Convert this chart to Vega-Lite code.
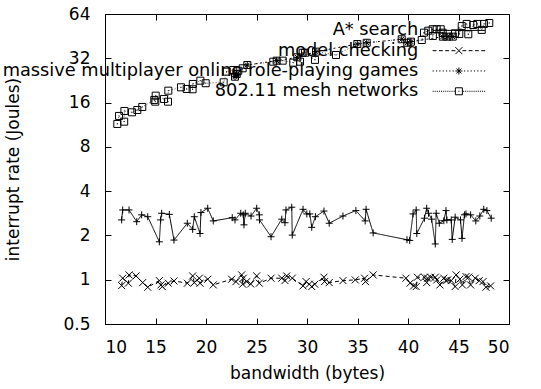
{
  "$schema": "https://vega.github.io/schema/vega-lite/v6.json",
  "width": 404,
  "height": 310,
  "autosize": {"type": "none"},
  "padding": {"left": 105, "top": 14, "right": 32, "bottom": 65},
  "config": {
    "view": {"stroke": null},
    "font": "DejaVu Sans",
    "axis": {
      "labelFont": "DejaVu Sans", "labelFontSize": 17, "labelColor": "black",
      "titleFont": "DejaVu Sans", "titleFontSize": 17, "titleFontWeight": "normal", "titleColor": "black",
      "domainColor": "black", "tickColor": "black", "grid": false, "tickSize": -6
    }
  },
  "data": {"values": [
    {"s":"A* search","x":11.65,"y":2.55},{"s":"A* search","x":11.75,"y":2.98},{"s":"A* search","x":12.38,"y":2.98},{"s":"A* search","x":13.14,"y":2.48},{"s":"A* search","x":13.63,"y":2.76},{"s":"A* search","x":14.23,"y":2.68},{"s":"A* search","x":15.38,"y":1.81},{"s":"A* search","x":15.51,"y":2.55},{"s":"A* search","x":15.61,"y":2.83},{"s":"A* search","x":16.37,"y":2.78},{"s":"A* search","x":16.83,"y":1.86},{"s":"A* search","x":18.15,"y":2.42},{"s":"A* search","x":18.68,"y":2.2},{"s":"A* search","x":18.84,"y":2.68},{"s":"A* search","x":19.41,"y":2.06},{"s":"A* search","x":19.5,"y":2.86},{"s":"A* search","x":20.17,"y":3.06},{"s":"A* search","x":20.72,"y":2.51},{"s":"A* search","x":22.6,"y":2.64},{"s":"A* search","x":22.87,"y":2.55},{"s":"A* search","x":23.44,"y":2.83},{"s":"A* search","x":23.69,"y":2.76},{"s":"A* search","x":23.76,"y":2.36},{"s":"A* search","x":23.89,"y":2.83},{"s":"A* search","x":24.46,"y":2.71},{"s":"A* search","x":25.02,"y":3.06},{"s":"A* search","x":25.28,"y":2.76},{"s":"A* search","x":25.3,"y":2.55},{"s":"A* search","x":26.44,"y":1.96},{"s":"A* search","x":27.5,"y":2.58},{"s":"A* search","x":27.82,"y":2.44},{"s":"A* search","x":27.92,"y":2.98},{"s":"A* search","x":28.49,"y":3.11},{"s":"A* search","x":28.54,"y":2.01},{"s":"A* search","x":29.61,"y":3.01},{"s":"A* search","x":29.98,"y":2.8},{"s":"A* search","x":30.28,"y":2.8},{"s":"A* search","x":30.47,"y":2.27},{"s":"A* search","x":30.83,"y":2.68},{"s":"A* search","x":31.68,"y":2.93},{"s":"A* search","x":32.2,"y":2.42},{"s":"A* search","x":33.56,"y":2.71},{"s":"A* search","x":34.84,"y":2.95},{"s":"A* search","x":35.76,"y":2.51},{"s":"A* search","x":35.85,"y":3.01},{"s":"A* search","x":36.55,"y":2.08},{"s":"A* search","x":39.9,"y":1.87},{"s":"A* search","x":40.17,"y":1.85},{"s":"A* search","x":40.5,"y":2.8},{"s":"A* search","x":40.81,"y":2.98},{"s":"A* search","x":40.87,"y":2.06},{"s":"A* search","x":41.63,"y":2.62},{"s":"A* search","x":41.85,"y":3.06},{"s":"A* search","x":42.03,"y":2.83},{"s":"A* search","x":42.34,"y":2.58},{"s":"A* search","x":42.7,"y":1.75},{"s":"A* search","x":42.79,"y":2.83},{"s":"A* search","x":43.1,"y":2.42},{"s":"A* search","x":43.55,"y":2.52},{"s":"A* search","x":43.76,"y":2.95},{"s":"A* search","x":43.85,"y":2.55},{"s":"A* search","x":44.28,"y":2.55},{"s":"A* search","x":44.38,"y":1.88},{"s":"A* search","x":44.67,"y":2.66},{"s":"A* search","x":45.2,"y":2.55},{"s":"A* search","x":45.35,"y":1.91},{"s":"A* search","x":45.59,"y":2.76},{"s":"A* search","x":45.74,"y":2.8},{"s":"A* search","x":46.2,"y":2.76},{"s":"A* search","x":46.71,"y":2.51},{"s":"A* search","x":47.11,"y":2.71},{"s":"A* search","x":47.5,"y":3.01},{"s":"A* search","x":47.81,"y":2.95},{"s":"A* search","x":48.24,"y":2.62},
    {"s":"model checking","x":11.65,"y":0.912},{"s":"model checking","x":11.75,"y":1.024},{"s":"model checking","x":12.31,"y":0.947},{"s":"model checking","x":12.38,"y":1.078},{"s":"model checking","x":13.07,"y":1.061},{"s":"model checking","x":13.73,"y":0.956},{"s":"model checking","x":14.23,"y":0.889},{"s":"model checking","x":15.38,"y":0.986},{"s":"model checking","x":15.54,"y":0.922},{"s":"model checking","x":15.67,"y":0.898},{"s":"model checking","x":16.27,"y":0.947},{"s":"model checking","x":16.83,"y":0.981},{"s":"model checking","x":18.15,"y":0.947},{"s":"model checking","x":18.68,"y":1.061},{"s":"model checking","x":18.84,"y":0.956},{"s":"model checking","x":19.34,"y":1.024},{"s":"model checking","x":19.41,"y":0.947},{"s":"model checking","x":20.17,"y":1.008},{"s":"model checking","x":20.72,"y":0.922},{"s":"model checking","x":22.54,"y":1.008},{"s":"model checking","x":22.97,"y":0.971},{"s":"model checking","x":23.53,"y":1.078},{"s":"model checking","x":23.63,"y":0.932},{"s":"model checking","x":23.69,"y":1.024},{"s":"model checking","x":24.03,"y":0.971},{"s":"model checking","x":24.43,"y":0.936},{"s":"model checking","x":25.02,"y":1.061},{"s":"model checking","x":25.28,"y":0.947},{"s":"model checking","x":26.44,"y":1.024},{"s":"model checking","x":27.5,"y":1.024},{"s":"model checking","x":27.82,"y":0.986},{"s":"model checking","x":27.99,"y":1.061},{"s":"model checking","x":28.54,"y":1.024},{"s":"model checking","x":29.61,"y":0.908},{"s":"model checking","x":29.91,"y":0.971},{"s":"model checking","x":30.22,"y":0.932},{"s":"model checking","x":30.47,"y":0.898},{"s":"model checking","x":30.77,"y":0.932},{"s":"model checking","x":31.68,"y":1.04},{"s":"model checking","x":31.74,"y":0.971},{"s":"model checking","x":32.2,"y":0.956},{"s":"model checking","x":33.56,"y":0.986},{"s":"model checking","x":34.78,"y":0.997},{"s":"model checking","x":35.7,"y":1.024},{"s":"model checking","x":35.79,"y":0.971},{"s":"model checking","x":36.55,"y":1.078},{"s":"model checking","x":39.8,"y":1.024},{"s":"model checking","x":40.2,"y":0.947},{"s":"model checking","x":40.56,"y":0.908},{"s":"model checking","x":40.81,"y":0.898},{"s":"model checking","x":40.93,"y":1.04},{"s":"model checking","x":41.63,"y":1.04},{"s":"model checking","x":41.85,"y":0.956},{"s":"model checking","x":41.94,"y":1.024},{"s":"model checking","x":42.24,"y":1.04},{"s":"model checking","x":42.7,"y":1.04},{"s":"model checking","x":42.85,"y":0.997},{"s":"model checking","x":43.16,"y":0.922},{"s":"model checking","x":43.55,"y":1.024},{"s":"model checking","x":43.76,"y":0.986},{"s":"model checking","x":43.92,"y":0.997},{"s":"model checking","x":44.28,"y":0.986},{"s":"model checking","x":44.67,"y":0.898},{"s":"model checking","x":44.77,"y":1.078},{"s":"model checking","x":45.13,"y":1.008},{"s":"model checking","x":45.38,"y":0.922},{"s":"model checking","x":45.74,"y":1.05},{"s":"model checking","x":45.99,"y":1.04},{"s":"model checking","x":46.2,"y":0.922},{"s":"model checking","x":46.65,"y":1.024},{"s":"model checking","x":47.05,"y":0.986},{"s":"model checking","x":47.42,"y":0.971},{"s":"model checking","x":47.72,"y":0.889},{"s":"model checking","x":48.18,"y":0.908},
    {"s":"massive multiplayer online role-playing games","x":22.87,"y":23.99},{"s":"massive multiplayer online role-playing games","x":23.04,"y":25.03},{"s":"massive multiplayer online role-playing games","x":24.09,"y":28.81},{"s":"massive multiplayer online role-playing games","x":27.0,"y":30.83},{"s":"massive multiplayer online role-playing games","x":29.04,"y":32.5},{"s":"massive multiplayer online role-playing games","x":30.89,"y":35.5},{"s":"massive multiplayer online role-playing games","x":34.98,"y":40.0},{"s":"massive multiplayer online role-playing games","x":35.91,"y":40.8},{"s":"massive multiplayer online role-playing games","x":39.38,"y":43.1},{"s":"massive multiplayer online role-playing games","x":39.93,"y":40.8},{"s":"massive multiplayer online role-playing games","x":40.3,"y":41.5},{"s":"massive multiplayer online role-playing games","x":43.45,"y":44.9},{"s":"massive multiplayer online role-playing games","x":43.89,"y":44.9},{"s":"massive multiplayer online role-playing games","x":44.43,"y":44.9},
    {"s":"802.11 mesh networks","x":11.22,"y":11.45},{"s":"802.11 mesh networks","x":11.39,"y":12.98},{"s":"802.11 mesh networks","x":11.9,"y":11.87},{"s":"802.11 mesh networks","x":11.92,"y":14.03},{"s":"802.11 mesh networks","x":12.67,"y":13.74},{"s":"802.11 mesh networks","x":13.2,"y":14.25},{"s":"802.11 mesh networks","x":13.69,"y":14.94},{"s":"802.11 mesh networks","x":14.88,"y":16.67},{"s":"802.11 mesh networks","x":14.98,"y":16.23},{"s":"802.11 mesh networks","x":15.02,"y":17.83},{"s":"802.11 mesh networks","x":15.84,"y":16.93},{"s":"802.11 mesh networks","x":16.24,"y":16.23},{"s":"802.11 mesh networks","x":16.27,"y":19.28},{"s":"802.11 mesh networks","x":17.52,"y":20.32},{"s":"802.11 mesh networks","x":18.09,"y":19.8},{"s":"802.11 mesh networks","x":18.67,"y":19.7},{"s":"802.11 mesh networks","x":18.69,"y":21.41},{"s":"802.11 mesh networks","x":19.44,"y":22.54},{"s":"802.11 mesh networks","x":19.97,"y":21.65},{"s":"802.11 mesh networks","x":21.75,"y":21.98},{"s":"802.11 mesh networks","x":22.05,"y":25.95},{"s":"802.11 mesh networks","x":22.7,"y":26.64},{"s":"802.11 mesh networks","x":22.87,"y":23.99},{"s":"802.11 mesh networks","x":23.04,"y":25.03},{"s":"802.11 mesh networks","x":23.2,"y":26.35},{"s":"802.11 mesh networks","x":23.63,"y":27.36},{"s":"802.11 mesh networks","x":24.09,"y":28.81},{"s":"802.11 mesh networks","x":26.66,"y":30.34},{"s":"802.11 mesh networks","x":27.0,"y":30.83},{"s":"802.11 mesh networks","x":27.59,"y":30.83},{"s":"802.11 mesh networks","x":28.64,"y":29.88},{"s":"802.11 mesh networks","x":29.04,"y":32.5},{"s":"802.11 mesh networks","x":29.31,"y":30.34},{"s":"802.11 mesh networks","x":29.57,"y":34.9},{"s":"802.11 mesh networks","x":29.8,"y":34.9},{"s":"802.11 mesh networks","x":30.79,"y":31.2},{"s":"802.11 mesh networks","x":30.89,"y":35.5},{"s":"802.11 mesh networks","x":32.87,"y":33.7},{"s":"802.11 mesh networks","x":34.98,"y":40.0},{"s":"802.11 mesh networks","x":35.91,"y":40.8},{"s":"802.11 mesh networks","x":39.38,"y":43.1},{"s":"802.11 mesh networks","x":39.93,"y":40.8},{"s":"802.11 mesh networks","x":40.3,"y":41.5},{"s":"802.11 mesh networks","x":41.36,"y":42.6},{"s":"802.11 mesh networks","x":41.58,"y":47.8},{"s":"802.11 mesh networks","x":42.01,"y":49.3},{"s":"802.11 mesh networks","x":42.44,"y":50.4},{"s":"802.11 mesh networks","x":42.46,"y":45.4},{"s":"802.11 mesh networks","x":42.84,"y":50.4},{"s":"802.11 mesh networks","x":43.24,"y":50.4},{"s":"802.11 mesh networks","x":43.43,"y":47.8},{"s":"802.11 mesh networks","x":43.45,"y":44.9},{"s":"802.11 mesh networks","x":43.89,"y":44.9},{"s":"802.11 mesh networks","x":44.43,"y":44.9},{"s":"802.11 mesh networks","x":44.65,"y":47.3},{"s":"802.11 mesh networks","x":45.08,"y":46.8},{"s":"802.11 mesh networks","x":45.32,"y":53.0},{"s":"802.11 mesh networks","x":45.81,"y":54.8},{"s":"802.11 mesh networks","x":45.97,"y":46.6},{"s":"802.11 mesh networks","x":46.46,"y":53.9},{"s":"802.11 mesh networks","x":46.86,"y":54.8},{"s":"802.11 mesh networks","x":47.3,"y":49.9},{"s":"802.11 mesh networks","x":47.52,"y":54.8},{"s":"802.11 mesh networks","x":48.05,"y":55.6}
  ]},
  "layer": [
    {
      "mark": {"type": "line", "strokeWidth": 1},
      "encoding": {
        "x": {"field": "x", "type": "quantitative",
          "scale": {"domain": [10, 50], "nice": false, "zero": false},
          "axis": {"orient": "bottom", "values": [10,15,20,25,30,35,40,45,50], "labelPadding": 21, "title": "bandwidth (bytes)", "titleY": 49, "titleBaseline": "middle"}},
        "y": {"field": "y", "type": "quantitative",
          "scale": {"type": "log", "base": 2, "domain": [0.5, 64], "nice": false},
          "axis": {"orient": "left", "values": [0.5,1,2,4,8,16,32,64], "labelExpr": "'' + datum.value", "labelPadding": 21, "title": "interrupt rate (Joules)", "titleX": -92, "titleY": 155, "titleAngle": 270, "titleAlign": "center", "titleBaseline": "middle"}},
        "detail": {"field": "s"},
        "color": {"field": "s", "type": "nominal", "legend": null,
          "scale": {"domain": ["A* search","model checking","massive multiplayer online role-playing games","802.11 mesh networks"], "range": ["#000000","#000000","#000000","#555555"]}},
        "strokeDash": {"field": "s", "type": "nominal", "legend": null,
          "scale": {"domain": ["A* search","model checking","massive multiplayer online role-playing games","802.11 mesh networks"], "range": [[1,0],[4,3],[2,3],[1,2]]}}
      }
    },
    {
      "mark": {"type": "point", "filled": false, "strokeWidth": 1, "color": "#000000", "opacity": 1, "size": 49},
      "encoding": {
        "x": {"field": "x", "type": "quantitative",
          "scale": {"domain": [10, 50], "nice": false, "zero": false},
          "axis": {"orient": "top", "values": [10,15,20,25,30,35,40,45,50], "labels": false, "title": null}},
        "y": {"field": "y", "type": "quantitative",
          "scale": {"type": "log", "base": 2, "domain": [0.5, 64], "nice": false},
          "axis": {"orient": "right", "values": [0.5,1,2,4,8,16,32,64], "labels": false, "title": null}},
        "shape": {"field": "s", "type": "nominal", "legend": null,
          "scale": {"domain": ["A* search","model checking","massive multiplayer online role-playing games","802.11 mesh networks"],
            "range": ["M-1,0H1M0,-1V1", "M-1,-1L1,1M-1,1L1,-1", "M-1,0H1M0,-1V1M-0.7,-0.7L0.7,0.7M-0.7,0.7L0.7,-0.7", "M-1,-1H1V1H-1ZM-0.15,0H0.15"]}}
      }
    },
    {
      "mark": {"type": "point", "filled": false, "strokeWidth": 1, "color": "#000000", "opacity": 0, "size": 49},
      "encoding": {
        "x": {"field": "x", "type": "quantitative", "scale": {"domain": [10, 50], "nice": false, "zero": false}, "axis": null},
        "y": {"field": "y", "type": "quantitative", "scale": {"type": "log", "base": 2, "domain": [0.5, 64], "nice": false}, "axis": null},
        "shape": {"field": "s", "type": "nominal",
          "scale": {"domain": ["A* search","model checking","massive multiplayer online role-playing games","802.11 mesh networks"],
            "range": [
              "M-7.5,0H7.5M0,-1V1",
              "M-7.5,0H-6.4M-5.7,0H-4.6M-3.9,0H-2.8M-2.1,0H-1M1,0H2.1M2.8,0H3.9M4.6,0H5.7M6.4,0H7.5M-1,-1L1,1M-1,1L1,-1",
              "M-7.5,0H-7.15M-6.55,0H-6.2M-5.6,0H-5.25M-4.65,0H-4.3M-3.7,0H-3.35M-2.75,0H-2.4M-1.8,0H-1.45M1.45,0H1.8M2.4,0H2.75M3.35,0H3.7M4.3,0H4.65M5.25,0H5.6M6.2,0H6.55M7.15,0H7.5M-1,0H1M0,-1V1M-0.7,-0.7L0.7,0.7M-0.7,0.7L0.7,-0.7",
              "M-7.5,0H-7.2M-6.9,0H-6.6M-6.3,0H-6M-5.7,0H-5.4M-5.1,0H-4.8M-4.5,0H-4.2M-3.9,0H-3.6M-3.3,0H-3M-2.7,0H-2.4M-2.1,0H-1.8M-1.5,0H-1.2M1.2,0H1.5M1.8,0H2.1M2.4,0H2.7M3,0H3.3M3.6,0H3.9M4.2,0H4.5M4.8,0H5.1M5.4,0H5.7M6,0H6.3M6.6,0H6.9M7.2,0H7.5M-1,-1H1V1H-1ZM-0.15,0H0.15"
            ]},
          "legend": {
            "orient": "none", "legendX": 345, "legendY": 7.5, "title": null, "padding": 0,
            "labelFont": "DejaVu Sans", "labelFontSize": 17.75, "labelColor": "black", "labelAlign": "right", "labelOffset": -49.5, "labelLimit": 600,
            "symbolSize": 49, "symbolStrokeWidth": 1, "symbolStrokeColor": "black", "symbolFillColor": "transparent", "symbolOpacity": 1, "rowPadding": 1.3
          }
        }
      }
    }
  ],
  "resolve": {"scale": {"x": "independent", "y": "independent", "shape": "independent"}, "legend": {"shape": "independent", "color": "independent", "strokeDash": "independent"}}
}
